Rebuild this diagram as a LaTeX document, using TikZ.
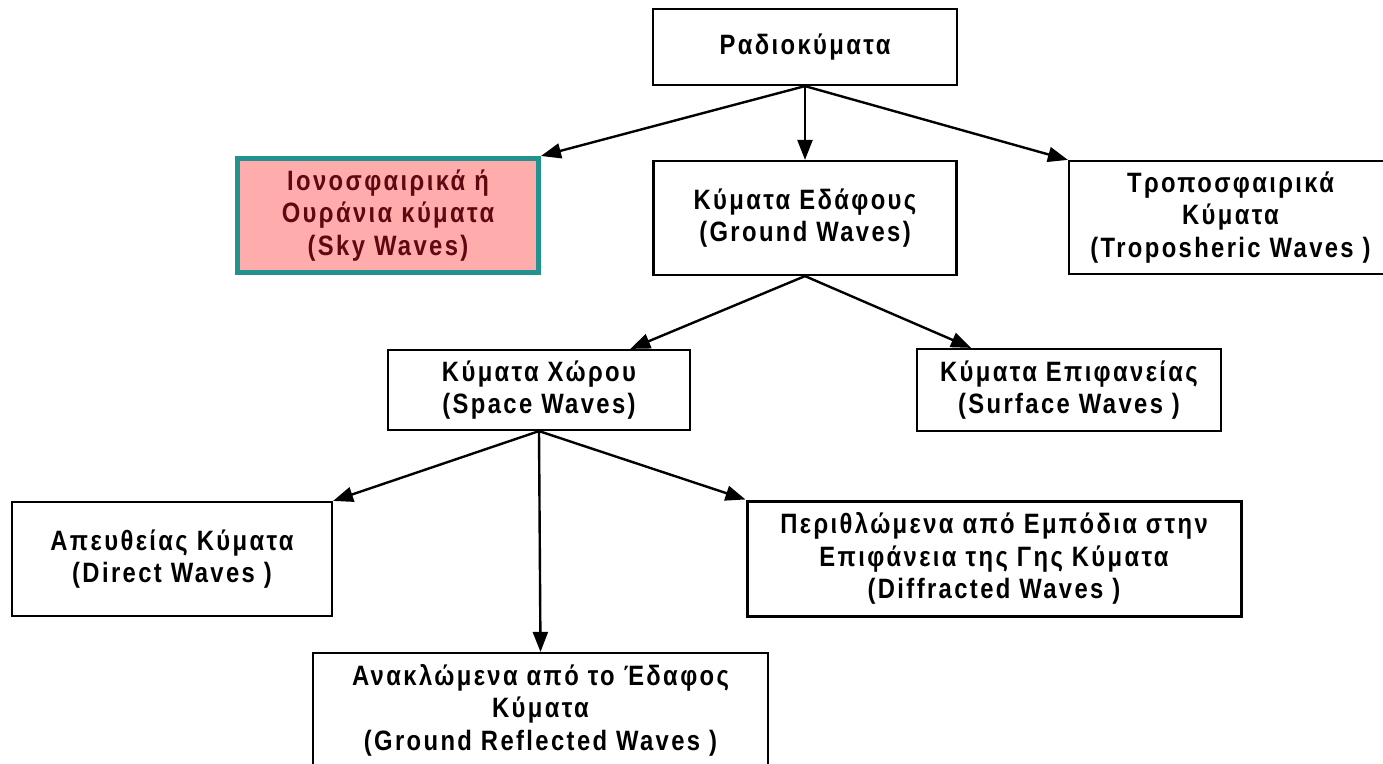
\documentclass[tikz,border=0pt]{standalone}
\usepackage{fontspec}
\setmainfont{Liberation Sans}[LetterSpace=8.5, FakeStretch=0.85]
\usetikzlibrary{arrows.meta,calc}
\definecolor{skyfill}{RGB}{255,172,172}
\definecolor{skyedge}{RGB}{34,146,142}
\definecolor{skytext}{RGB}{96,8,16}
\tikzset{
  box/.style={draw=black, line width=2.2pt, rectangle, align=center, inner sep=0pt,
    font=\fontsize{28}{32.5}\selectfont\bfseries},
  skybox/.style={box, draw=skyedge, line width=5pt, fill=skyfill, text=skytext},
  thickbox/.style={box, line width=3pt},
  arr/.style={line width=2.4pt, -{Triangle[length=20pt,width=15pt]}},
}
\begin{document}
\begin{tikzpicture}[x=1pt,y=-1pt]
\useasboundingbox (0,0) rectangle (1383,763);
\node[box, minimum width=304pt, minimum height=76pt] (radio) at (805,47) {Ραδιοκύματα};
\node[skybox, minimum width=301pt, minimum height=114pt] (sky) at (388,215.5)
  {Ιονοσφαιρικά ή\\Ουράνια κύματα\\(Sky Waves)};
\node[box, minimum width=303pt, minimum height=114pt] (ground) at (805,218)
  {Κύματα Εδάφους\\(Ground Waves)};
\node[box, minimum width=323pt, minimum height=113pt] (tropo) at (1230.5,217.5)
  {Τροποσφαιρικά\\Κύματα\\(Troposheric Waves )};
\node[box, minimum width=302pt, minimum height=80pt] (space) at (539,390)
  {Κύματα Χώρου\\(Space Waves)};
\node[box, minimum width=304pt, minimum height=82pt] (surface) at (1069,390)
  {Κύματα Επιφανείας\\(Surface Waves )};
\node[box, minimum width=320pt, minimum height=114pt] (direct) at (172,559)
  {Απευθείας Κύματα\\(Direct Waves )};
\node[thickbox, minimum width=494pt, minimum height=115pt] (diffr) at (994,558.5)
  {Περιθλώμενα από Εμπόδια στην\\Επιφάνεια της Γης Κύματα\\(Diffracted Waves )};
\node[box, minimum width=455pt, minimum height=114pt] (refl) at (540.5,710)
  {Ανακλώμενα από το Έδαφος\\Κύματα\\(Ground Reflected Waves )};
\coordinate (spacein) at ($(space.north west)!0.8!(space.north east)$);
\coordinate (surfin) at ($(surface.north west)!0.18!(surface.north east)$);
\draw[arr] (radio.south) -- (sky.north east);
\draw[arr] (radio.south) -- (ground.north);
\draw[arr] (radio.south) -- (tropo.north west);
\draw[arr] (ground.south) -- (spacein);
\draw[arr] (ground.south) -- (surfin);
\draw[arr] (space.south) -- (direct.north east);
\draw[arr] (space.south) -- (refl.north);
\draw[arr] (space.south) -- (diffr.north west);
\end{tikzpicture}
\end{document}
